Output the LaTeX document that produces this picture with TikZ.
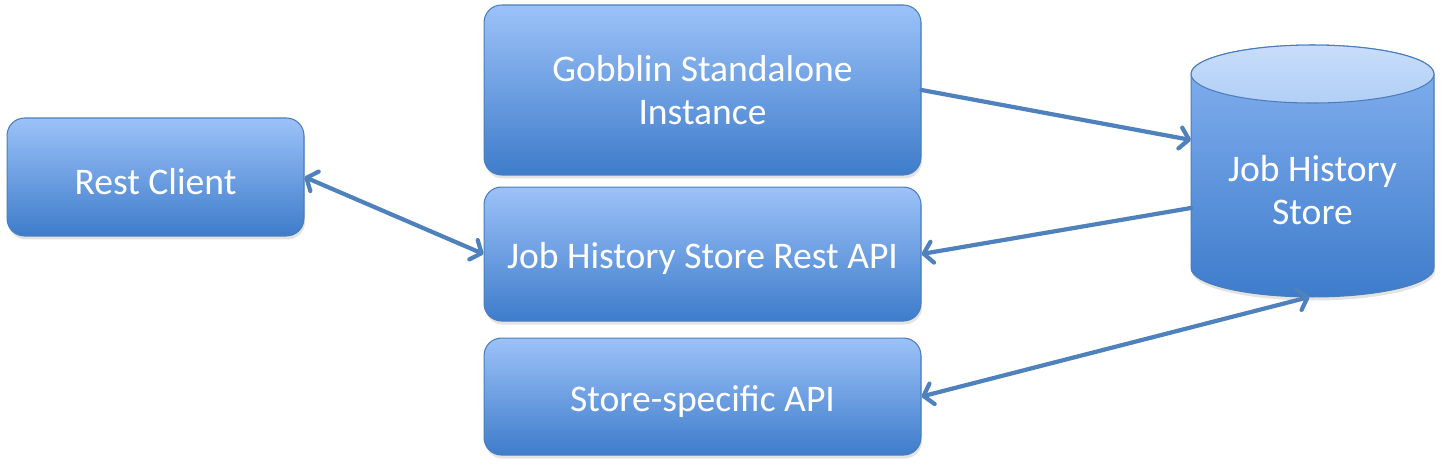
\documentclass[tikz,border=0pt]{standalone}
\usepackage{fontspec}
\setmainfont{Carlito}
\usetikzlibrary{positioning, arrows.meta, shadows}

\definecolor{boxtop}{HTML}{9CC2F8}
\definecolor{boxbot}{HTML}{3E7CCB}
\definecolor{bodytop}{HTML}{86B2F1}
\definecolor{boxline}{HTML}{4A7EBB}
\definecolor{linkblue}{HTML}{4F81BD}
\definecolor{captop}{HTML}{C8DDFA}
\definecolor{capbot}{HTML}{B2CFF6}

\begin{document}
\begin{tikzpicture}[x=0.02cm, y=-0.02cm,
	box/.style={draw=boxline, line width=0.6pt, rounded corners=0.35cm, top color=boxtop, bottom color=boxbot, text=white, align=center, font=\fontsize{21.4}{24.4}\selectfont, execute at begin node={\rule{0pt}{20pt}}, drop shadow={shadow xshift=0.6pt, shadow yshift=-2pt, opacity=0.22}},
	link/.style={draw=linkblue, line width=2.4pt, line cap=round, line join=round},
	>={Straight Barb[length=5pt, width=12pt, round]}
]
	\useasboundingbox (0,0) rectangle (1442,465);

	\node[box, minimum width=8.74cm, minimum height=3.4cm] (gobblin) at (702.5,90) {Gobblin Standalone\\Instance};
	\node[box, minimum width=8.74cm, minimum height=2.68cm, below=0.22cm of gobblin] (api) {Job History Store Rest API};
	\node[box, minimum width=8.74cm, minimum height=2.34cm, below=0.32cm of api] (specific) {Store-specific API};
	\node[box, minimum width=5.94cm, minimum height=2.36cm] (client) at (155.5,177) {Rest Client};

	\node[minimum width=4.86cm, minimum height=5.04cm, inner sep=0pt, outer sep=0pt] (store) at (1312.5,171) {};
	\shade[top color=bodytop, bottom color=boxbot, draw=boxline, line width=0.6pt, drop shadow={shadow xshift=0.6pt, shadow yshift=-2pt, opacity=0.22}]
		([yshift=-0.58cm]store.north west) -- ([yshift=0.58cm]store.south west)
		arc[start angle=180, end angle=360, x radius=2.43cm, y radius=0.58cm]
		-- ([yshift=-0.58cm]store.north east)
		arc[start angle=0, end angle=180, x radius=2.43cm, y radius=0.58cm] -- cycle;
	\shade[top color=captop, bottom color=capbot, draw=boxline, line width=0.6pt]
		([yshift=-0.58cm]store.north) ellipse[x radius=2.43cm, y radius=0.58cm];
	\node[text=white, align=center, font=\fontsize{21.4}{24.4}\selectfont] (storetext) at ([yshift=-0.38cm]store.center) {Job History\\Store};

	\draw [link]
		(gobblin.east) edge[->] ([yshift=0.62cm]store.west)
		([yshift=-0.74cm]store.west) edge[->] (api.east)

		(client.east) edge[<->] (api.west)

		(specific.east) edge[<->] ([xshift=-0.06cm]store.south)
		;
\end{tikzpicture}
\end{document}
